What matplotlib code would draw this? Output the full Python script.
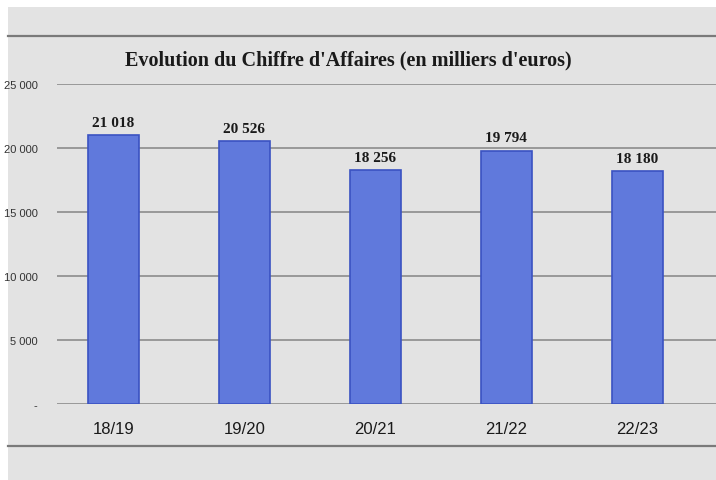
"""Evolution du chiffre d'affaires - bar chart."""

import matplotlib
matplotlib.use('Agg')
import matplotlib.pyplot as plt
from matplotlib.lines import Line2D
from matplotlib.patches import Rectangle

# data
years = ['18/19', '19/20', '20/21', '21/22', '22/23']
ca = [21018, 20526, 18256, 19794, 18180]
y_ticks = [0, 5000, 10000, 15000, 20000, 25000]
y_labels = ['-', '5 000', '10 000', '15 000', '20 000', '25 000']

narrow = ['Liberation Sans Narrow', 'Liberation Sans', 'DejaVu Sans']
serif = ['Liberation Serif', 'DejaVu Serif']

fig = plt.figure(figsize=(7.16, 4.81), dpi=100, facecolor='white')

# screen background and slide rules
fig.patches.append(Rectangle((8 / 716, 0), 1, 1 - 8 / 481,
                             transform=fig.transFigure, facecolor='#e3e3e3',
                             edgecolor='none', zorder=-2))
for ypix in (37, 447):
    fig.lines.append(Line2D([8 / 716, 1], [1 - ypix / 481] * 2,
                            transform=fig.transFigure, color='#7a7a7a',
                            lw=1.6, zorder=-1))

ax = fig.add_axes([57 / 716, 76 / 481, 0.92, 320 / 481])
ax.set_facecolor('none')
ax.set_axisbelow(True)

ax.bar(range(len(years)), ca, width=0.39, color='#6079dc',
       edgecolor='#3a52c2', linewidth=1.2, zorder=3)
for i, v in enumerate(ca):
    ax.text(i, v + 500, f'{v:,}'.replace(',', ' '), ha='center',
            va='bottom', fontsize=11, fontweight='bold', family=serif,
            color='#1a1a1a')

ax.set_xlim(-0.43, 4.6)
ax.set_ylim(0, 25000)
ax.set_yticks(y_ticks)
ax.set_yticklabels(y_labels, family=narrow, fontsize=8, color='#333333')
ax.set_xticks(range(len(years)))
ax.set_xticklabels(years, family=narrow, fontsize=12, color='#1a1a1a')
ax.tick_params(axis='y', length=0, pad=14)
ax.tick_params(axis='x', length=0, pad=12)
ax.grid(axis='y', color='#8c8c8c', lw=1.2)
for s in ax.spines.values():
    s.set_visible(False)

fig.text(348 / 716, 1 - 60 / 481,
         "Evolution du Chiffre d'Affaires (en milliers d'euros)",
         ha='center', va='center', fontsize=14.5, fontweight='bold',
         family=serif, color='#1a1a1a')

fig.savefig('out.png', dpi=100, facecolor=fig.get_facecolor())
